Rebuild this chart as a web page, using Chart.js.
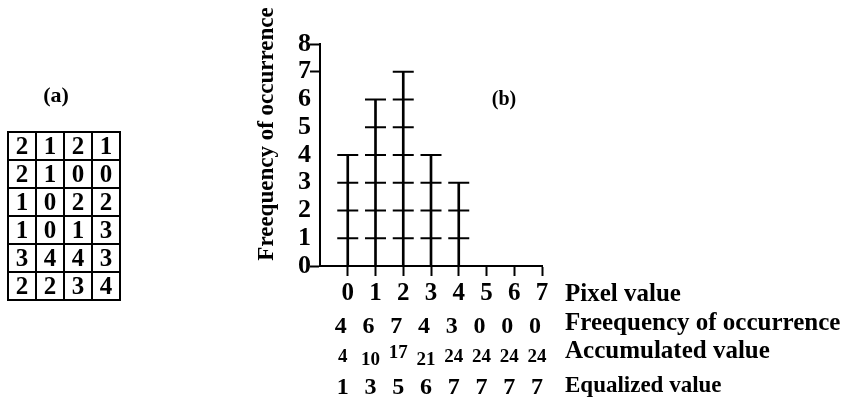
<!DOCTYPE html>
<html>
<head>
<meta charset="utf-8">
<script src="https://cdn.jsdelivr.net/npm/chart.js@4.4.0/dist/chart.umd.min.js"></script>
<style>
  html, body { margin: 0; padding: 0; background: #fff; }
  #wrap { position: relative; width: 846px; height: 403px; }
  #hist { position: absolute; left: 0; top: 0; }
  #grid { position: absolute; left: 7px; top: 131px; border-collapse: collapse; }
  #grid td {
    width: 26px; height: 26px; padding: 0; border: 2px solid #000;
    text-align: center; vertical-align: middle;
    font: bold 25px "Liberation Serif", "Times New Roman", serif; line-height: 26px;
  }
  .tag { position: absolute; width: 40px; text-align: center; font-family: "Liberation Serif", "Times New Roman", serif; font-weight: bold; }
  #tagA { left: 36px; top: 83px; font-size: 22px; line-height: 24px; }
  #tagB { left: 484px; top: 87px; font-size: 20px; line-height: 22px; }
</style>
</head>
<body>
<div id="wrap">
  <canvas id="hist" width="846" height="403"></canvas>
  <div class="tag" id="tagA">(a)</div>
  <table id="grid"></table>
  <div class="tag" id="tagB">(b)</div>
</div>
<script>
// 원본 영상 (a) 와 히스토그램 (b) 값
const imageRows = [
  [2, 1, 2, 1],
  [2, 1, 0, 0],
  [1, 0, 2, 2],
  [1, 0, 1, 3],
  [3, 4, 4, 3],
  [2, 2, 3, 4]
];
const pixelValues = [0, 1, 2, 3, 4, 5, 6, 7];
const frequency = [4, 6, 7, 4, 3, 0, 0, 0];
const accumulated = [4, 10, 17, 21, 24, 24, 24, 24];
const equalized = [1, 3, 5, 6, 7, 7, 7, 7];
const yTickMarks = [0, 7, 8];   // y axis values that carry a short tick
const rowLabels = ['Pixel value', 'Freequency of occurrence', 'Accumulated value', 'Equalized value'];
const yTitle = 'Freequency of occurrence';

const SERIF = '"Liberation Serif", "Times New Roman", serif';

// (a) grid table
(() => {
  const table = document.getElementById('grid');
  imageRows.forEach(r => {
    const tr = document.createElement('tr');
    r.forEach(v => {
      const td = document.createElement('td');
      td.textContent = v;
      tr.appendChild(td);
    });
    table.appendChild(tr);
  });
})();

// crossbars: one mark at every unit level of every bar
const crossbars = [];
pixelValues.forEach((p, i) => {
  for (let k = 1; k <= frequency[i]; k++) crossbars.push({ x: p, y: k });
});

// table rows under the x axis + rotated y title
const tableRows = {
  id: 'tableRows',
  afterDraw(chart) {
    const ctx = chart.ctx;
    const xs = chart.scales.x;
    ctx.save();
    ctx.fillStyle = '#000';

    // y title
    ctx.save();
    ctx.translate(273, 134);
    ctx.rotate(-Math.PI / 2);
    ctx.font = 'bold 23px ' + SERIF;
    ctx.textAlign = 'center';
    ctx.textBaseline = 'alphabetic';
    ctx.fillText(yTitle, 0, 0);
    ctx.restore();

    const rows = [
      { vals: pixelValues, size: 25, base: 300, dx: 0 },
      { vals: frequency, size: 24, base: 333, dx: -7 },
      { vals: accumulated, size: 19, base: 362, dx: -5, lift: [0, 3, -4, 3, 0, 0, 0, 0] },
      { vals: equalized, size: 24, base: 394, dx: -5 }
    ];
    const labelSize = [25, 25, 25, 23];
    const labelBase = [301, 330, 358, 392];
    ctx.textAlign = 'center';
    rows.forEach(r => {
      ctx.font = 'bold ' + r.size + 'px ' + SERIF;
      r.vals.forEach((v, i) => {
        const x = xs.getPixelForValue(pixelValues[i]) + r.dx;
        const y = r.base + (r.lift ? r.lift[i] : 0);
        ctx.fillText(String(v), x, y);
      });
    });
    ctx.textAlign = 'left';
    const lx = xs.getPixelForValue(pixelValues[pixelValues.length - 1]) + 23;
    rowLabels.forEach((t, i) => {
      ctx.font = 'bold ' + labelSize[i] + 'px ' + SERIF;
      ctx.fillText(t, lx, labelBase[i]);
    });
    ctx.restore();
  }
};

new Chart(document.getElementById('hist'), {
  type: 'bar',
  data: {
    datasets: [
      {
        type: 'bar',
        data: pixelValues.map((p, i) => ({ x: p, y: frequency[i] })),
        backgroundColor: '#000',
        borderWidth: 0,
        barThickness: 2
      },
      {
        type: 'line',
        data: crossbars,
        showLine: false,
        pointStyle: 'line',
        pointRadius: 10.5,
        pointBorderWidth: 2,
        pointBorderColor: '#000',
        pointBackgroundColor: '#000'
      }
    ]
  },
  options: {
    responsive: false,
    animation: false,
    events: [],
    layout: { padding: { left: 280, right: 304, top: 44, bottom: 127 } },
    plugins: { legend: { display: false }, tooltip: { enabled: false } },
    scales: {
      x: {
        type: 'linear',
        min: -1, max: 7,
        offset: false,
        border: { display: true, color: '#000', width: 2 },
        grid: {
          offset: false,
          drawOnChartArea: false,
          drawTicks: true,
          tickLength: 10,
          tickWidth: 2,
          tickColor: c => (c.tick && c.tick.value < 0) ? 'rgba(0,0,0,0)' : '#000'
        },
        ticks: { stepSize: 1, display: false },
        afterFit: s => { s.height = 10; }
      },
      y: {
        min: 0, max: 8,
        border: { display: true, color: '#000', width: 2 },
        grid: {
          drawOnChartArea: false,
          drawTicks: true,
          tickLength: 10,
          tickWidth: 2,
          tickColor: c => (c.tick && yTickMarks.includes(c.tick.value)) ? '#000' : 'rgba(0,0,0,0)'
        },
        ticks: {
          stepSize: 1,
          autoSkip: false,
          padding: -1,
          color: '#000',
          font: { family: SERIF, size: 26, weight: 'bold' }
        },
        afterFit: s => { s.width = 40; }
      }
    }
  },
  plugins: [tableRows]
});
</script>
</body>
</html>
